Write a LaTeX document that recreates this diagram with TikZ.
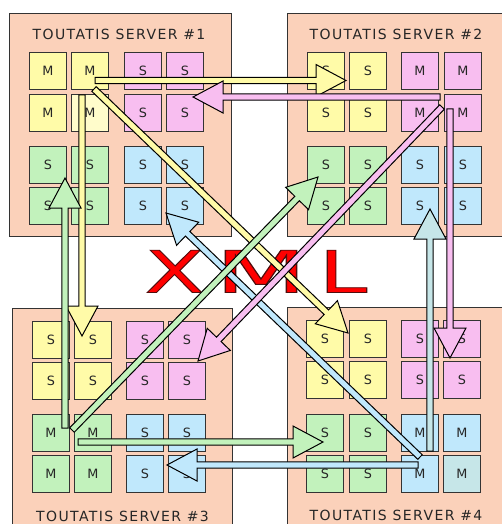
\documentclass[tikz,border=0pt]{standalone}
\usepackage{fontspec}
\setmainfont{DejaVu Sans}
\newfontfamily\xmlfont[FakeBold=1.3]{DejaVu Sans}
\usetikzlibrary{calc}
\definecolor{peach}{HTML}{FBD1BA}
\definecolor{yel}{HTML}{FFFBA8}
\definecolor{yelL}{HTML}{FFFCCB}
\definecolor{pnk}{HTML}{F8BEF0}
\definecolor{grn}{HTML}{C2F2BC}
\definecolor{blu}{HTML}{C0E8FC}
\definecolor{tealb}{HTML}{C6E6E8}
\definecolor{edge}{HTML}{333333}
\definecolor{xmlred}{HTML}{FF0000}
\newcommand{\edgestroke}{\special{pdf:literal direct 0.32 0.05 0.05 RG}}
\newcommand{\cellblock}[7]{%
  \node[cell,fill=#6] (#1-1) at (#2+19,#4+19) {#7};
  \node[cell,fill=#6] (#1-2) at (#3+19,#4+19) {#7};
  \node[cell,fill=#6] (#1-3) at (#2+19,#5+19) {#7};
  \node[cell,fill=#6] (#1-4) at (#3+19,#5+19) {#7};}
\newcommand{\blockarrow}[3]{%
  \coordinate (hb) at ($(#3)!30pt!(#2)$);
  \filldraw[arrowbody, fill=#1]
    ($(#2)!3.2pt!90:(#3)$) -- ($(hb)!3.2pt!90:(#3)$) -- ($(hb)!16pt!90:(#3)$) --
    (#3) -- ($(hb)!16pt!-90:(#3)$) -- ($(hb)!3.2pt!-90:(#3)$) --
    ($(#2)!3.2pt!-90:(#3)$) -- cycle;}
\begin{document}
\begin{tikzpicture}[x=1pt,y=-1pt,
  server/.style={fill=peach, draw=edge, line width=1pt},
  cell/.style={draw=edge, line width=1.1pt, minimum size=37.3pt, inner sep=0pt,
    font=\fontsize{12.8}{12.8}\selectfont, text=black!85},
  title/.style={anchor=base, inner sep=0pt, text=black!85,
    font=\fontsize{14}{14}\selectfont\addfontfeature{LetterSpace=10}},
  xmlletter/.style={anchor=base, inner sep=0pt, text=xmlred,
    font=\xmlfont\fontsize{58}{58}\selectfont},
  arrowbody/.style={draw=black, line width=1pt, line join=miter}]
\useasboundingbox (0,0) rectangle (502,524);
\clip (0,0) rectangle (502,524);
\fill[white] (0,0) rectangle (502,524);
% server boxes
\draw[server] (9,14) rectangle (231,236);
\draw[server] (287,14) rectangle (509,236);
\draw[server] (12,308) rectangle (232,530);
\draw[server] (287,307) rectangle (509,529);
% titles
\node[title] (t1) at (119,39.5) {TOUTATIS SERVER \#1};
\node[title] (t2) at (396,39.5) {TOUTATIS SERVER \#2};
\node[title] (t3) at (122.5,521.3) {TOUTATIS SERVER \#3};
\node[title] (t4) at (396,520.5) {TOUTATIS SERVER \#4};
% server 1
\node[cell,fill=yel]  (a-y-1) at (29+19,52+19) {M};
\node[cell,fill=yel]  (a-y-2) at (71+19,52+19) {M};
\node[cell,fill=yel]  (a-y-3) at (29+19,94+19) {M};
\node[cell,fill=yelL] (a-y-4) at (71+19,94+19) {M};
\cellblock{a-p}{124}{166}{52}{94}{pnk}{S}
\cellblock{a-g}{29}{71}{146}{187}{grn}{S}
\cellblock{a-b}{124}{166}{146}{187}{blu}{S}
% server 2
\cellblock{b-y}{307}{349}{52}{94}{yel}{S}
\cellblock{b-p}{401}{444}{52}{94}{pnk}{M}
\cellblock{b-g}{307}{349}{146}{187}{grn}{S}
\cellblock{b-b}{401}{444}{146}{187}{blu}{S}
% server 3
\cellblock{c-y}{32}{74}{321}{362}{yel}{S}
\cellblock{c-p}{126}{168}{321}{362}{pnk}{S}
\cellblock{c-g}{32}{74}{414}{455}{grn}{M}
\cellblock{c-b}{126}{168}{414}{455}{blu}{S}
% server 4
\cellblock{d-y}{306}{349}{320}{361}{yel}{S}
\cellblock{d-p}{401}{443}{320}{361}{pnk}{S}
\cellblock{d-g}{306}{349}{414}{455}{grn}{S}
\node[cell,fill=blu]   (d-b-1) at (401+19,414+19) {M};
\node[cell,fill=blu]   (d-b-2) at (443+19,414+19) {M};
\node[cell,fill=blu]   (d-b-3) at (401+19,455+19) {M};
\node[cell,fill=tealb] (d-b-4) at (443+19,455+19) {M};
% XML
\node[xmlletter] (xml-x) at (174.5,292.5) {\scalebox{1.5}[1]{\edgestroke X}};
\node[xmlletter] (xml-m) at (261,292.5) {\scalebox{1.84}[1]{\edgestroke M}};
\node[xmlletter] (xml-l) at (343,292.5) {\scalebox{1.5}[1]{\edgestroke L}};
% arrow end points
\coordinate (b1s) at (420,457); \coordinate (b1e) at (166,213);
\coordinate (b2s) at (418,465); \coordinate (b2e) at (167,465);
\coordinate (b3s) at (430,451); \coordinate (b3e) at (430,209);
\coordinate (y1s) at (95,80.5); \coordinate (y1e) at (346,80.5);
\coordinate (y2s) at (94,89);   \coordinate (y2e) at (348,333);
\coordinate (y3s) at (82,95);   \coordinate (y3e) at (82,336);
\coordinate (g1s) at (65,428);  \coordinate (g1e) at (65,178);
\coordinate (g2s) at (72,430);  \coordinate (g2e) at (318,177);
\coordinate (g3s) at (78,442);  \coordinate (g3e) at (323,442);
\coordinate (p1s) at (440,97);  \coordinate (p1e) at (193,97);
\coordinate (p2s) at (442,107); \coordinate (p2e) at (198,361);
\coordinate (p3s) at (450,109); \coordinate (p3e) at (450,358);
% arrows
\blockarrow{blu}{b1s}{b1e}
\blockarrow{blu}{b2s}{b2e}
\blockarrow{tealb}{b3s}{b3e}
\blockarrow{yel}{y1s}{y1e}
\blockarrow{yel}{y2s}{y2e}
\blockarrow{yel}{y3s}{y3e}
\blockarrow{grn}{g1s}{g1e}
\blockarrow{grn}{g2s}{g2e}
\blockarrow{grn}{g3s}{g3e}
\blockarrow{pnk}{p1s}{p1e}
\blockarrow{pnk}{p2s}{p2e}
\blockarrow{pnk}{p3s}{p3e}
\end{tikzpicture}
\end{document}
